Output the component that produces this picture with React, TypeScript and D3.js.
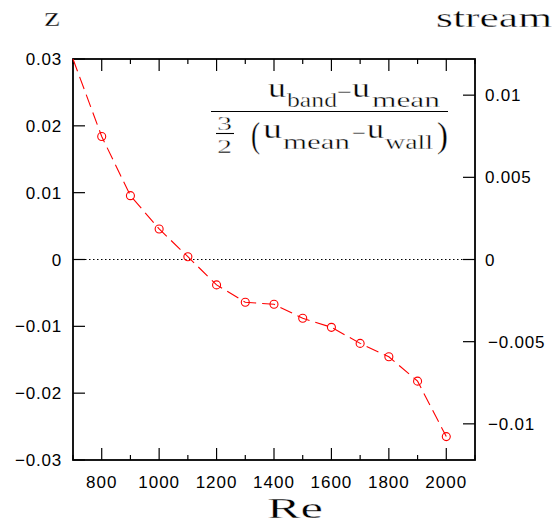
import * as d3 from "d3";
import { useEffect, useRef } from "react";

// Reynolds numbers and the band velocity measure
const reValues = [700, 800, 900, 1000, 1100, 1200, 1300, 1400, 1500, 1600, 1700, 1800, 1900, 2000];
const zValues = [0.03, 0.0184, 0.00955, 0.00457, 0.00042, -0.0038, -0.0064, -0.0067, -0.0088, -0.01015, -0.01255, -0.01455, -0.0182, -0.0265];
const markerFrom = 1; // first point has no symbol (starts at the frame corner)

const xTicks = [800, 1000, 1200, 1400, 1600, 1800, 2000];
const xMinor = [700, 900, 1100, 1300, 1500, 1700, 1900, 2100];
const zTicks = [0.03, 0.02, 0.01, 0, -0.01, -0.02, -0.03];
const streamTicks = [0.01, 0.005, 0, -0.005, -0.01];

const fmt = (v: number) => (v === 0 ? "0" : (v < 0 ? "\u2212" : "") + String(Math.abs(v)));

function App() {
  const svgRef = useRef<SVGSVGElement>(null);
  const width = 556;
  const height = 525;
  const left = 73, right = 475, top = 59, bottom = 460;

  useEffect(() => {
    const svg = d3.select(svgRef.current);
    svg.selectAll("*").remove();

    const x = d3.scaleLinear().domain([700, 2100]).range([left, right]);
    const y = d3.scaleLinear().domain([-0.03, 0.03]).range([bottom, top]);
    const y2 = d3.scaleLinear().domain([-0.0122, 0.0122]).range([bottom, top]);

    const sans = "'Liberation Sans', Arial, sans-serif";
    const serif = "'Liberation Serif', serif";

    // zero line
    svg.append("line")
      .attr("x1", left).attr("x2", right)
      .attr("y1", y(0)).attr("y2", y(0))
      .attr("stroke", "#000").attr("stroke-width", 1)
      .attr("stroke-dasharray", "1.5,2.5");

    // ticks
    const tk = svg.append("g").attr("stroke", "#000").attr("stroke-width", 1.2);
    xTicks.forEach((t) => {
      tk.append("line").attr("x1", x(t)).attr("x2", x(t)).attr("y1", bottom).attr("y2", bottom - 12);
      tk.append("line").attr("x1", x(t)).attr("x2", x(t)).attr("y1", top).attr("y2", top + 12);
    });
    xMinor.forEach((t) => {
      tk.append("line").attr("x1", x(t)).attr("x2", x(t)).attr("y1", bottom).attr("y2", bottom - 5);
      tk.append("line").attr("x1", x(t)).attr("x2", x(t)).attr("y1", top).attr("y2", top + 5);
    });
    zTicks.forEach((t) => {
      tk.append("line").attr("x1", left).attr("x2", left + 12).attr("y1", y(t)).attr("y2", y(t));
    });
    streamTicks.forEach((t) => {
      tk.append("line").attr("x1", right).attr("x2", right - 12).attr("y1", y2(t)).attr("y2", y2(t));
    });

    // frame
    svg.append("rect")
      .attr("x", left).attr("y", top)
      .attr("width", right - left).attr("height", bottom - top)
      .attr("fill", "none").attr("stroke", "#000").attr("stroke-width", 1.8);

    // tick labels
    const lab = svg.append("g").attr("font-family", sans).attr("font-size", 17).attr("fill", "#000");
    xTicks.forEach((t) => {
      lab.append("text").attr("x", x(t)).attr("y", 488).attr("text-anchor", "middle")
        .attr("letter-spacing", 1).text(String(t));
    });
    zTicks.forEach((t) => {
      lab.append("text").attr("x", 62).attr("y", y(t) + 6).attr("text-anchor", "end")
        .attr("letter-spacing", 0.8).text(fmt(t));
    });
    streamTicks.forEach((t) => {
      lab.append("text").attr("x", t < 0 ? 488 : 485).attr("y", y2(t) + 6).attr("text-anchor", "start")
        .attr("letter-spacing", 0.8).text(fmt(t));
    });

    // data line
    const line = d3.line<number>()
      .x((d, i) => x(reValues[i]))
      .y((d) => y(d));
    svg.append("path")
      .datum(zValues)
      .attr("d", line)
      .attr("fill", "none")
      .attr("stroke", "#ff0000")
      .attr("stroke-width", 1.1)
      .attr("stroke-dasharray", "13,6");

    svg.selectAll(".pt")
      .data(zValues.slice(markerFrom))
      .join("circle")
      .attr("class", "pt")
      .attr("cx", (d, i) => x(reValues[i + markerFrom]))
      .attr("cy", (d) => y(d))
      .attr("r", 4)
      .attr("fill", "none")
      .attr("stroke", "#ff0000")
      .attr("stroke-width", 1.1);

    // serif titles: wide, thin plotter-style lettering (stretched, then thinned with a white edge)
    const t = svg.append("g").attr("font-family", serif).attr("fill", "#000")
      .attr("stroke", "#fff").attr("stroke-width", 0.35);
    const piece = (txt: string, x0: number, x1: number, yy: number, size: number) =>
      t.append("text").attr("x", x0).attr("y", yy).attr("font-size", size)
        .attr("textLength", x1 - x0).attr("lengthAdjust", "spacingAndGlyphs").text(txt);

    piece("z", 44, 60, 26, 28);
    piece("stream", 436, 552, 27, 28);
    piece("Re", 267, 323, 518, 30);

    // fraction label
    piece("u", 268, 286, 97, 28);
    piece("band", 287, 337, 107, 21);
    piece("\u2212", 337, 352, 100, 24);
    piece("u", 352, 370, 97, 28);
    piece("mean", 372, 440, 107, 21);

    svg.append("line").attr("x1", 211).attr("x2", 448).attr("y1", 111.5).attr("y2", 111.5)
      .attr("stroke", "#000").attr("stroke-width", 1.2);

    piece("3", 217, 232, 130, 19);
    svg.append("line").attr("x1", 216).attr("x2", 234).attr("y1", 133.5).attr("y2", 133.5)
      .attr("stroke", "#000").attr("stroke-width", 1.1);
    piece("2", 217, 232, 153, 19);

    piece("(", 251, 260, 147, 36);
    piece("u", 263, 282, 138, 28);
    piece("mean", 283, 350, 149, 21);
    piece("\u2212", 352, 366, 141, 24);
    piece("u", 367, 384, 138, 28);
    piece("wall", 385, 433, 149, 21);
    piece(")", 437, 448, 147, 36);
  }, []);

  return (
    <svg ref={svgRef} width={width} height={height}
      style={{ position: "absolute", left: 0, top: 0, background: "#fff" }} />
  );
}

export default App;
